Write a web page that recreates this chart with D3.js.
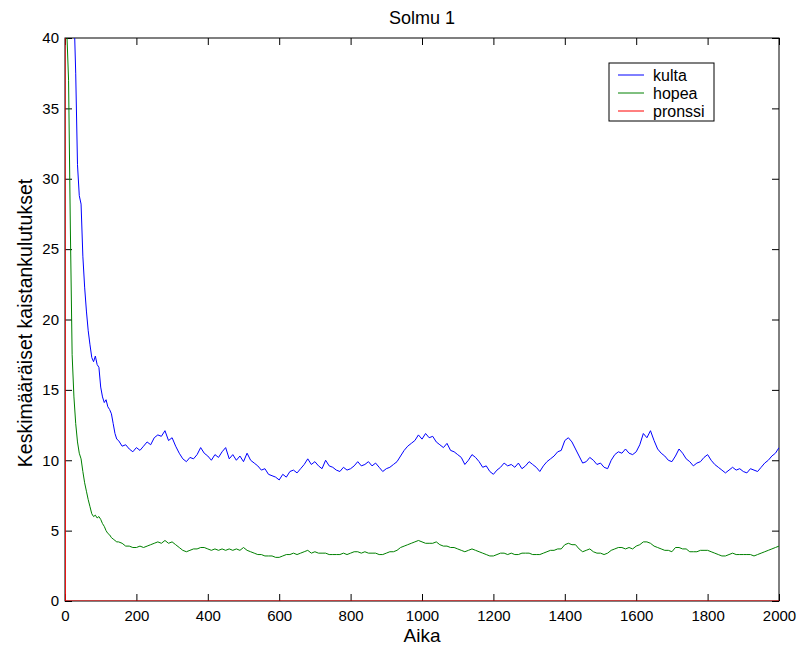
<!DOCTYPE html>
<html>
<head>
<meta charset="utf-8">
<script src="https://cdn.jsdelivr.net/npm/d3@7"></script>
<style>
  body { margin: 0; background: #fff; }
  text { font-family: "Liberation Sans", Arial, Helvetica, sans-serif; }
</style>
</head>
<body>
<div class="canvas"></div>
<script>
// time grid: every 5 steps in the steep start, every 10 after that
const aika = d3.range(0, 150, 5).concat(d3.range(150, 2001, 10));

const kulta = [
  70, 62, 55, 50, 46, 42, 37.5, 31, 28.8, 28.2, 24.5, 22.3, 20.6, 19.2, 18.2,
  17.3, 17.0, 17.4, 16.8, 16.6, 15.2, 14.5, 14.1, 14.3, 13.8, 13.6, 13.3, 12.6, 11.9, 11.5,
  // 150 ->
  11.4, 11.0, 11.1, 10.8, 10.6, 10.9, 10.7, 11.0, 11.3, 11.1,
  11.6, 11.8, 11.7, 12.1, 11.4, 11.6, 11.0, 10.5, 10.1, 9.9,
  10.2, 10.1, 10.4, 10.9, 10.5, 10.3, 10.0, 10.4, 10.2, 10.6,
  10.9, 10.1, 10.4, 10.0, 10.3, 9.9, 10.5, 10.0, 9.8, 9.6,
  9.3, 9.4, 9.0, 8.9, 8.8, 8.6, 9.0, 8.8, 9.2, 9.3,
  9.1, 9.4, 9.7, 10.1, 9.7, 9.9, 9.6, 9.4, 10.0, 9.6,
  9.5, 9.3, 9.2, 9.5, 9.3, 9.4, 9.6, 9.9, 9.6, 9.7,
  9.9, 9.6, 9.8, 9.5, 9.2, 9.4, 9.5, 9.7, 9.9, 10.3,
  10.7, 11.0, 11.2, 11.4, 11.8, 11.5, 11.9, 11.6, 11.7, 11.3,
  11.1, 10.9, 11.2, 10.7, 10.6, 10.4, 10.2, 9.7, 10.0, 10.4,
  10.2, 9.9, 9.5, 9.6, 9.2, 9.0, 9.3, 9.5, 9.8, 9.6,
  9.7, 9.5, 9.8, 9.4, 9.6, 9.9, 9.7, 9.5, 9.2, 9.6,
  9.9, 10.1, 10.3, 10.6, 10.7, 11.4, 11.6, 11.3, 10.8, 10.3,
  9.8, 9.9, 10.2, 10.0, 9.7, 9.8, 9.5, 9.4, 10.0, 10.4,
  10.6, 10.5, 10.8, 10.5, 10.4, 10.6, 11.1, 11.9, 11.6, 12.1,
  11.4, 10.8, 10.5, 10.3, 10.0, 9.9, 10.3, 10.8, 10.5, 10.1,
  9.9, 9.6, 9.8, 9.9, 10.2, 10.4, 10.0, 9.7, 9.5, 9.3,
  9.1, 9.3, 9.5, 9.3, 9.4, 9.2, 9.1, 9.4, 9.3, 9.2,
  9.5, 9.8, 10.0, 10.3, 10.5, 10.9
];

const hopea = [
  60, 40.5, 37.0, 26.5, 17.5, 14.5, 12.6, 11.3, 10.5, 10.1, 9.2, 8.4, 7.8, 7.2, 6.7,
  6.2, 6.0, 6.1, 5.9, 6.0, 5.8, 5.5, 5.3, 5.0, 4.8, 4.7, 4.5, 4.4, 4.3, 4.2,
  // 150 ->
  4.2, 4.1, 3.9, 3.9, 3.8, 3.8, 3.9, 3.8, 3.9, 4.0,
  4.1, 4.2, 4.1, 4.3, 4.1, 4.2, 4.0, 3.8, 3.6, 3.5,
  3.6, 3.7, 3.7, 3.8, 3.8, 3.7, 3.6, 3.7, 3.6, 3.7,
  3.6, 3.7, 3.6, 3.7, 3.6, 3.8, 3.6, 3.5, 3.4, 3.3,
  3.3, 3.2, 3.2, 3.2, 3.1, 3.1, 3.2, 3.3, 3.3, 3.4,
  3.3, 3.4, 3.5, 3.6, 3.4, 3.5, 3.4, 3.4, 3.4, 3.3,
  3.3, 3.3, 3.3, 3.4, 3.3, 3.4, 3.5, 3.5, 3.4, 3.5,
  3.4, 3.4, 3.4, 3.3, 3.3, 3.4, 3.5, 3.5, 3.6, 3.8,
  3.9, 4.0, 4.1, 4.2, 4.3, 4.2, 4.1, 4.1, 4.1, 4.2,
  4.0, 3.9, 3.9, 3.8, 3.8, 3.7, 3.6, 3.5, 3.6, 3.7,
  3.6, 3.5, 3.4, 3.3, 3.2, 3.2, 3.3, 3.4, 3.4, 3.3,
  3.4, 3.3, 3.3, 3.4, 3.4, 3.4, 3.3, 3.3, 3.3, 3.4,
  3.5, 3.6, 3.6, 3.7, 3.7, 4.0, 4.1, 4.0, 4.0, 3.7,
  3.5, 3.6, 3.7, 3.5, 3.4, 3.4, 3.3, 3.4, 3.6, 3.7,
  3.8, 3.8, 3.7, 3.8, 3.7, 3.9, 4.0, 4.2, 4.2, 4.1,
  3.9, 3.8, 3.7, 3.6, 3.6, 3.5, 3.8, 3.8, 3.7, 3.7,
  3.5, 3.5, 3.5, 3.6, 3.6, 3.6, 3.5, 3.4, 3.3, 3.2,
  3.2, 3.3, 3.4, 3.3, 3.3, 3.3, 3.3, 3.3, 3.2, 3.3,
  3.4, 3.5, 3.6, 3.7, 3.8, 3.9
];

// pronssi drops to zero right away and stays there
const pronssiAika = [0, 1, 2000];
const pronssi = [60, 0, 0];

const sarjat = ['kulta', 'hopea', 'pronssi'];
const varit = ['#0000ff', '#008000', '#ff0000'];
const xTicks = [0, 200, 400, 600, 800, 1000, 1200, 1400, 1600, 1800, 2000];
const yTicks = [0, 5, 10, 15, 20, 25, 30, 35, 40];

const width = 800, height = 647;
const margin = { top: 38, right: 21, bottom: 46, left: 65 };
const graphWidth = width - margin.left - margin.right;
const graphHeight = height - margin.top - margin.bottom;

const svg = d3.select('.canvas')
  .append('svg')
    .attr('width', width)
    .attr('height', height);

const graph = svg.append('g')
  .attr('transform', `translate(${margin.left}, ${margin.top})`);

const x = d3.scaleLinear().domain([0, 2000]).range([0, graphWidth]);
const y = d3.scaleLinear().domain([0, 40]).range([graphHeight, 0]);

// axes, ticks pointing inward like matlab
const tickLen = 7;
const xAxis = d3.axisBottom(x).tickValues(xTicks).tickFormat(d3.format('d'))
  .tickSize(-tickLen).tickPadding(9).tickSizeOuter(0);
const yAxis = d3.axisLeft(y).tickValues(yTicks).tickFormat(d3.format('d'))
  .tickSize(-tickLen).tickPadding(6).tickSizeOuter(0);
const xTop = d3.axisTop(x).tickValues(xTicks).tickSize(-tickLen).tickFormat('').tickSizeOuter(0);
const yRight = d3.axisRight(y).tickValues(yTicks).tickSize(-tickLen).tickFormat('').tickSizeOuter(0);

graph.append('rect')
  .attr('width', graphWidth).attr('height', graphHeight)
  .attr('fill', '#fff').attr('stroke', '#000').attr('stroke-width', 1);

const gx = graph.append('g').attr('transform', `translate(0, ${graphHeight})`).call(xAxis);
const gy = graph.append('g').call(yAxis);
graph.append('g').call(xTop);
graph.append('g').attr('transform', `translate(${graphWidth}, 0)`).call(yRight);

graph.selectAll('.domain').remove();
graph.selectAll('.tick line').attr('stroke', '#000');
graph.selectAll('.tick text')
  .attr('font-size', 15).attr('fill', '#000')
  .attr('font-family', '"Liberation Sans", Arial, sans-serif');

// lines
svg.append('clipPath').attr('id', 'clip')
  .append('rect').attr('width', graphWidth).attr('height', graphHeight);

const plot = graph.append('g').attr('clip-path', 'url(#clip)');

const line = d3.line()
  .x(d => x(d[0]))
  .y(d => y(d[1]));

const data = [
  aika.map((t, i) => [t, kulta[i]]),
  aika.map((t, i) => [t, hopea[i]]),
  pronssiAika.map((t, i) => [t, pronssi[i]])
];

plot.selectAll('path')
  .data(data)
  .enter()
  .append('path')
    .attr('d', line)
    .attr('fill', 'none')
    .attr('stroke', (d, i) => varit[i])
    .attr('stroke-width', 1);

// titles
svg.append('text')
  .attr('x', margin.left + graphWidth / 2).attr('y', 24)
  .attr('text-anchor', 'middle').attr('font-size', 18)
  .text('Solmu 1');

svg.append('text')
  .attr('x', margin.left + graphWidth / 2).attr('y', 642)
  .attr('text-anchor', 'middle').attr('font-size', 19)
  .text('Aika');

svg.append('text')
  .attr('transform', `translate(31.5, 323) rotate(-90)`)
  .attr('text-anchor', 'middle').attr('font-size', 19.5)
  .text('Keskimääräiset kaistankulutukset');

// legend
const legend = svg.append('g').attr('transform', 'translate(609, 63)');
legend.append('rect')
  .attr('width', 105).attr('height', 58)
  .attr('fill', '#fff').attr('stroke', '#000');

const rows = legend.selectAll('.row')
  .data(sarjat)
  .enter()
  .append('g')
    .attr('transform', (d, i) => `translate(0, ${12 + i * 18})`);

rows.append('line')
  .attr('x1', 9).attr('x2', 35)
  .attr('stroke', (d, i) => varit[i]);

rows.append('text')
  .attr('x', 44).attr('dy', '0.35em')
  .attr('font-size', 16)
  .text(d => d);
</script>
</body>
</html>
